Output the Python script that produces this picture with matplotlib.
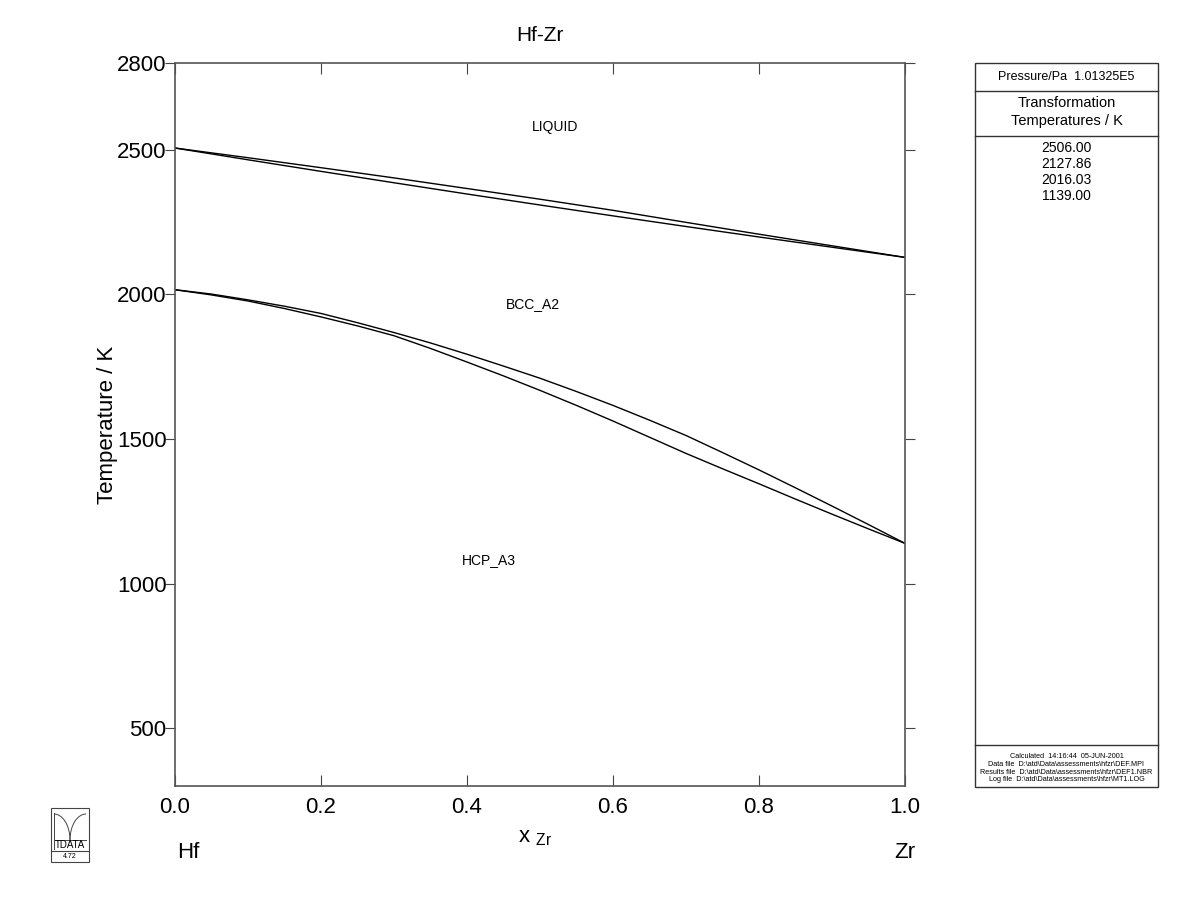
"""
Hf-Zr binary phase diagram (Thermo-Calc style output)
"""

import numpy as np
import matplotlib
matplotlib.use("Agg")
import matplotlib.pyplot as plt
from matplotlib.patches import Rectangle, Arc

plt.rcParams['font.family'] = ['Liberation Sans', 'DejaVu Sans']

# --- data ------------------------------------------------------------------
x_zr = [0.0, 0.1, 0.2, 0.3, 0.4, 0.5, 0.6, 0.7, 0.8, 0.9, 1.0]

# liquidus / solidus
liquidus = [2506.0, 2472.5, 2438.0, 2402.7, 2366.0, 2329.0, 2290.6, 2249.0, 2208.0, 2168.0, 2127.86]
solidus = [2506.0, 2465.3, 2425.3, 2385.9, 2347.0, 2309.0, 2271.4, 2234.6, 2198.4, 2163.0, 2127.86]

# bcc / hcp transus (denser, the curvature is stronger here)
x_tr = [0.0, 0.05, 0.1, 0.15, 0.2, 0.25, 0.3, 0.35, 0.4, 0.45, 0.5,
        0.55, 0.6, 0.65, 0.7, 0.75, 0.8, 0.85, 0.9, 0.95, 1.0]
bcc_transus = [2016.03, 2001, 1981, 1959, 1934, 1902, 1868, 1832, 1793, 1752, 1710,
               1664, 1616, 1565, 1512, 1453, 1393, 1331, 1268, 1204, 1139.0]
hcp_transus = [2016.03, 1998, 1977, 1951, 1922, 1891, 1857, 1813, 1766, 1718, 1668,
               1616, 1562, 1506, 1450, 1397, 1345, 1292, 1240, 1189, 1139.0]

phase_labels = ['LIQUID', 'BCC_A2', 'HCP_A3']
phase_pos = [(0.52, 2580), (0.49, 1965), (0.43, 1080)]

y_ticks = [500, 1000, 1500, 2000, 2500, 2800]
x_ticks = [0.0, 0.2, 0.4, 0.6, 0.8, 1.0]

trans_temps = ['2506.00', '2127.86', '2016.03', '1139.00']
info_lines = [
    'Calculated  14:16:44  05-JUN-2001',
    'Data file  D:\\atd\\Data\\assessments\\hfzr\\DEF.MPI',
    'Results file  D:\\atd\\Data\\assessments\\hfzr\\DEF1.NBR',
    'Log file  D:\\atd\\Data\\assessments\\hfzr\\MT1.LOG',
]

W, H = 1200, 923
fig = plt.figure(figsize=(W / 100, H / 100), dpi=100)

# --- main diagram ------------------------------------------------------------
ax = fig.add_axes([175 / W, 1 - 786 / H, 730 / W, 723 / H])
ax.plot(x_zr, liquidus, color='black', linewidth=1.0)
ax.plot(x_zr, solidus, color='black', linewidth=1.0)
ax.plot(x_tr, bcc_transus, color='black', linewidth=1.0)
ax.plot(x_tr, hcp_transus, color='black', linewidth=1.0)

ax.set_xlim(0, 1)
ax.set_ylim(300, 2800)
ax.set_xticks(x_ticks)
ax.set_xticklabels([f'{v:.1f}' for v in x_ticks])
ax.set_yticks(y_ticks)
ax.tick_params(axis='x', direction='in', top=True, length=8, labelsize=16,
               pad=8, color='#444444')
ax.tick_params(axis='y', direction='out', right=True, length=7, labelsize=16,
               pad=-1, color='#444444')
for sp in ax.spines.values():
    sp.set_color('#555555')
    sp.set_linewidth(1.2)

ax.set_title('Hf-Zr', fontsize=15, pad=16)
ax.set_ylabel('Temperature / K', fontsize=16, labelpad=-1)

for lab, (px, py) in zip(phase_labels, phase_pos):
    ax.text(px, py, lab, fontsize=10, ha='center', va='center')

# --- overlay in pixel coordinates for the annotations --------------------------
ov = fig.add_axes([0, 0, 1, 1], zorder=-1)
ov.set_xlim(0, W)
ov.set_ylim(H, 0)
ov.axis('off')

ov.text(535, 838, r'x $_{\mathregular{Zr}}$', fontsize=16, ha='center', va='center')
ov.text(188, 852, 'Hf', fontsize=16, ha='center', va='center')
ov.text(905, 852, 'Zr', fontsize=16, ha='center', va='center')

# info panel
bx0, bx1, by0, by1 = 975, 1158, 63, 787
ov.add_patch(Rectangle((bx0, by0), bx1 - bx0, by1 - by0, fill=False,
                       edgecolor='#333333', linewidth=1.0))
for yy in [91, 136, 745]:
    ov.plot([bx0, bx1], [yy, yy], color='#333333', linewidth=1.0)
cx = (bx0 + bx1) / 2
ov.text(cx, 77, 'Pressure/Pa  1.01325E5', fontsize=9, ha='center', va='center')
ov.text(cx, 103, 'Transformation', fontsize=10.5, ha='center', va='center')
ov.text(cx, 121, 'Temperatures / K', fontsize=10.5, ha='center', va='center')
for i, t in enumerate(trans_temps):
    ov.text(cx, 148 + 16 * i, t, fontsize=10, ha='center', va='center')
for i, t in enumerate(info_lines):
    ov.text(cx, 757 + 7.5 * i, t, fontsize=5.2, ha='center', va='center')

# TDATA logo
lx0, lx1, ly0, ly1 = 51, 89, 808, 862
mid = (lx0 + lx1) / 2
lc = '#444444'
ov.add_patch(Rectangle((lx0, ly0), lx1 - lx0, ly1 - ly0, fill=False,
                       edgecolor=lc, linewidth=0.8))
ov.plot([lx0, lx1], [851, 851], color=lc, linewidth=0.8)
ov.plot([lx0 + 3, lx1 - 3], [840, 840], color=lc, linewidth=0.7)
ov.plot([lx0 + 3, lx0 + 3], [813, 849], color=lc, linewidth=0.7)
ov.add_patch(Arc((lx0 + 3, 840), 2 * (mid - lx0 - 3), 2 * 26, theta1=270, theta2=360,
                 color=lc, linewidth=0.7))
ov.add_patch(Arc((lx1 - 3, 840), 2 * (lx1 - 3 - mid), 2 * 26, theta1=180, theta2=270,
                 color=lc, linewidth=0.7))
ov.text(mid, 845.5, 'TDATA', fontsize=7, ha='center', va='center')
ov.text(mid, 856.5, '4.72', fontsize=5, ha='center', va='center')

fig.savefig('out.png', dpi=100)
